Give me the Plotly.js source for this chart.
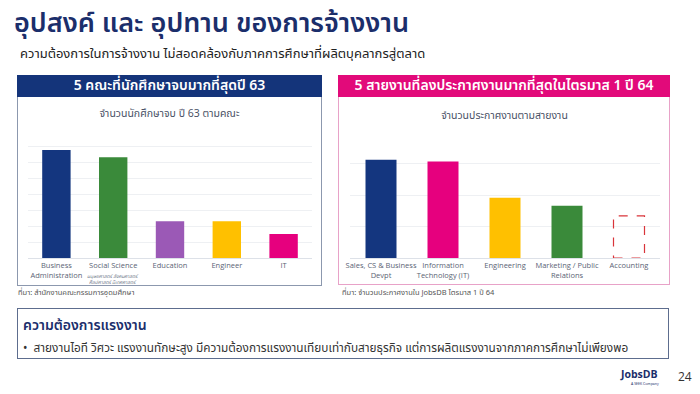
<!DOCTYPE html>
<html><head><meta charset="utf-8">
<script src="https://cdn.plot.ly/plotly-3.0.1.min.js"></script>
<style>
body{margin:0;width:700px;height:394px;position:relative;background:#fff;font-family:"Noto Sans Thai","Noto Sans","Open Sans",sans-serif;overflow:hidden}
.abs{position:absolute;white-space:nowrap}
</style></head><body>
<script>
// ---- data ----
const facultyCats = ["Business<br>Administration", "Social Science", "Education", "Engineer", "IT"];
const socialSciSub = "มนุษยศาสตร์ สังคมศาสตร์<br>ศิลปศาสตร์ นิเทศศาสตร์";
const graduates = [67500, 63000, 23000, 23000, 15000];
const facultyColors = ["#14367f", "#3a8a3a", "#9b59b6", "#ffc000", "#e6007e"];

const jobCats = ["Sales, CS & Business<br>Devpt", "Information<br>Technology (IT)", "Engineering", "Marketing / Public<br>Relations", "Accounting"];
const jobPosts = [3120, 3060, 1910, 1660, 1340];
const jobColors = ["#14367f", "#e6007e", "#ffc000", "#3a8a3a", "rgba(0,0,0,0)"];
</script>

<div class="abs" style="left:14px;top:3px;font-size:27px;font-weight:600;color:#1b2e6b">อุปสงค์ และ อุปทาน ของการจ้างงาน</div>
<div class="abs" style="left:20px;top:44px;font-size:13px;color:#222">ความต้องการในการจ้างงาน ไม่สอดคล้องกับภาคการศึกษาที่ผลิตบุคลากรสู่ตลาด</div>

<div class="abs" style="left:17px;top:75px;width:305px;height:22px;background:#14347a;color:#fff;font-weight:600;font-size:14px;text-align:center;line-height:22px">5 คณะที่นักศึกษาจบมากที่สุดปี 63</div>
<div class="abs" style="left:17px;top:97px;width:303px;height:188px;border:1px solid #8c98ae;border-top:none"></div>
<div id="c1" class="abs" style="left:18px;top:98px;width:303px;height:187px"></div>

<div class="abs" style="left:338px;top:75px;width:332px;height:22px;background:#e20a7a;color:#fff;font-weight:600;font-size:14px;text-align:center;line-height:22px">5 สายงานที่ลงประกาศงานมากที่สุดในไตรมาส 1 ปี 64</div>
<div class="abs" style="left:338px;top:97px;width:330px;height:187px;border:1px solid #e8a2c8;border-top:none"></div>
<div id="c2" class="abs" style="left:339px;top:98px;width:331px;height:201px"></div>

<div class="abs" style="left:18px;top:287px;font-size:7.5px;color:#555">ที่มา: สำนักงานคณะกรรมการอุดมศึกษา</div>
<div class="abs" style="left:342px;top:287px;font-size:7.5px;color:#555">ที่มา: จำนวนประกาศงานใน JobsDB ไตรมาส 1 ปี 64</div>

<div class="abs" style="left:17px;top:308px;width:650px;height:49px;border:1px solid #5d6d8e"></div>
<div class="abs" style="left:23px;top:315px;font-size:14px;font-weight:600;color:#1b2e6b">ความต้องการแรงงาน</div>
<div class="abs" style="left:23px;top:339px;font-size:11.8px;color:#333">•&nbsp;&nbsp;สายงานไอที วิศวะ แรงงานทักษะสูง มีความต้องการแรงงานเทียบเท่ากับสายธุรกิจ แต่การผลิตแรงงานจากภาคการศึกษาไม่เพียงพอ</div>

<div class="abs" style="left:621px;top:367px;font-size:10.5px;font-weight:700;color:#1b2e6b;font-family:'Open Sans',sans-serif">JobsDB</div>
<div class="abs" style="left:631px;top:381px;font-size:3.5px;color:#1b2e6b">A SEEK Company</div>
<div class="abs" style="left:678px;top:368px;font-size:12px;color:#333;font-family:'Open Sans',sans-serif">24</div>

<script>
const tickFont = {size: 7.5, color: "#5b6475", family: "Open Sans, Noto Sans Thai, sans-serif"};
const titleFont = {size: 10.5, color: "#4a5266", family: "Noto Sans Thai, Noto Sans, sans-serif"};

Plotly.newPlot("c1", [{
  type: "bar", x: facultyCats, y: graduates, width: 0.5,
  marker: {color: facultyColors}, hoverinfo: "none"
}], {
  width: 303, height: 187, margin: {l: 10, r: 9, t: 32, b: 27},
  paper_bgcolor: "rgba(0,0,0,0)", plot_bgcolor: "rgba(0,0,0,0)",
  title: {text: "จำนวนนักศึกษาจบ ปี 63 ตามคณะ", font: titleFont, x: 0.5, xanchor: "center", y: 1 - 15/187, yanchor: "middle"},
  xaxis: {tickfont: tickFont, tickangle: 0, showgrid: false, showline: true, linecolor: "#dde1e8", ticks: "", fixedrange: true},
  yaxis: {range: [0, 80000], dtick: 10000, showticklabels: false, gridcolor: "#eef0f3", zeroline: false, fixedrange: true},
  annotations: [{xref: "x", yref: "paper", x: facultyCats[1], y: 0, yshift: -13, yanchor: "top", showarrow: false,
    text: "<i>" + socialSciSub + "</i>", font: {size: 4.8, color: "#6a7385"}}],
  showlegend: false, font: {family: "Noto Sans Thai, Open Sans, sans-serif"}
}, {staticPlot: true});

const accIdx = jobCats.length - 1;
Plotly.newPlot("c2", [{
  type: "bar", x: jobCats, y: jobPosts, width: 0.5,
  marker: {color: jobColors}, hoverinfo: "none"
}], {
  width: 331, height: 201, margin: {l: 11, r: 10, t: 34, b: 41},
  paper_bgcolor: "rgba(0,0,0,0)", plot_bgcolor: "rgba(0,0,0,0)",
  title: {text: "จำนวนประกาศงานตามสายงาน", font: titleFont, x: 0.5, xanchor: "center", y: 1 - 17/201, yanchor: "middle"},
  xaxis: {tickfont: tickFont, tickangle: 0, showgrid: false, showline: true, linecolor: "#dde1e8", ticks: "", fixedrange: true},
  yaxis: {range: [0, 4000], dtick: 1000, showticklabels: false, gridcolor: "#eef0f3", zeroline: false, fixedrange: true},
  shapes: [{type: "rect", xref: "x", yref: "y", x0: accIdx - 0.25, x1: accIdx + 0.25, y0: 0, y1: jobPosts[accIdx],
    line: {color: "#d9343a", width: 1.2, dash: "dash"}, fillcolor: "rgba(0,0,0,0)"}],
  showlegend: false, font: {family: "Noto Sans Thai, Open Sans, sans-serif"}
}, {staticPlot: true});
</script>
</body></html>
